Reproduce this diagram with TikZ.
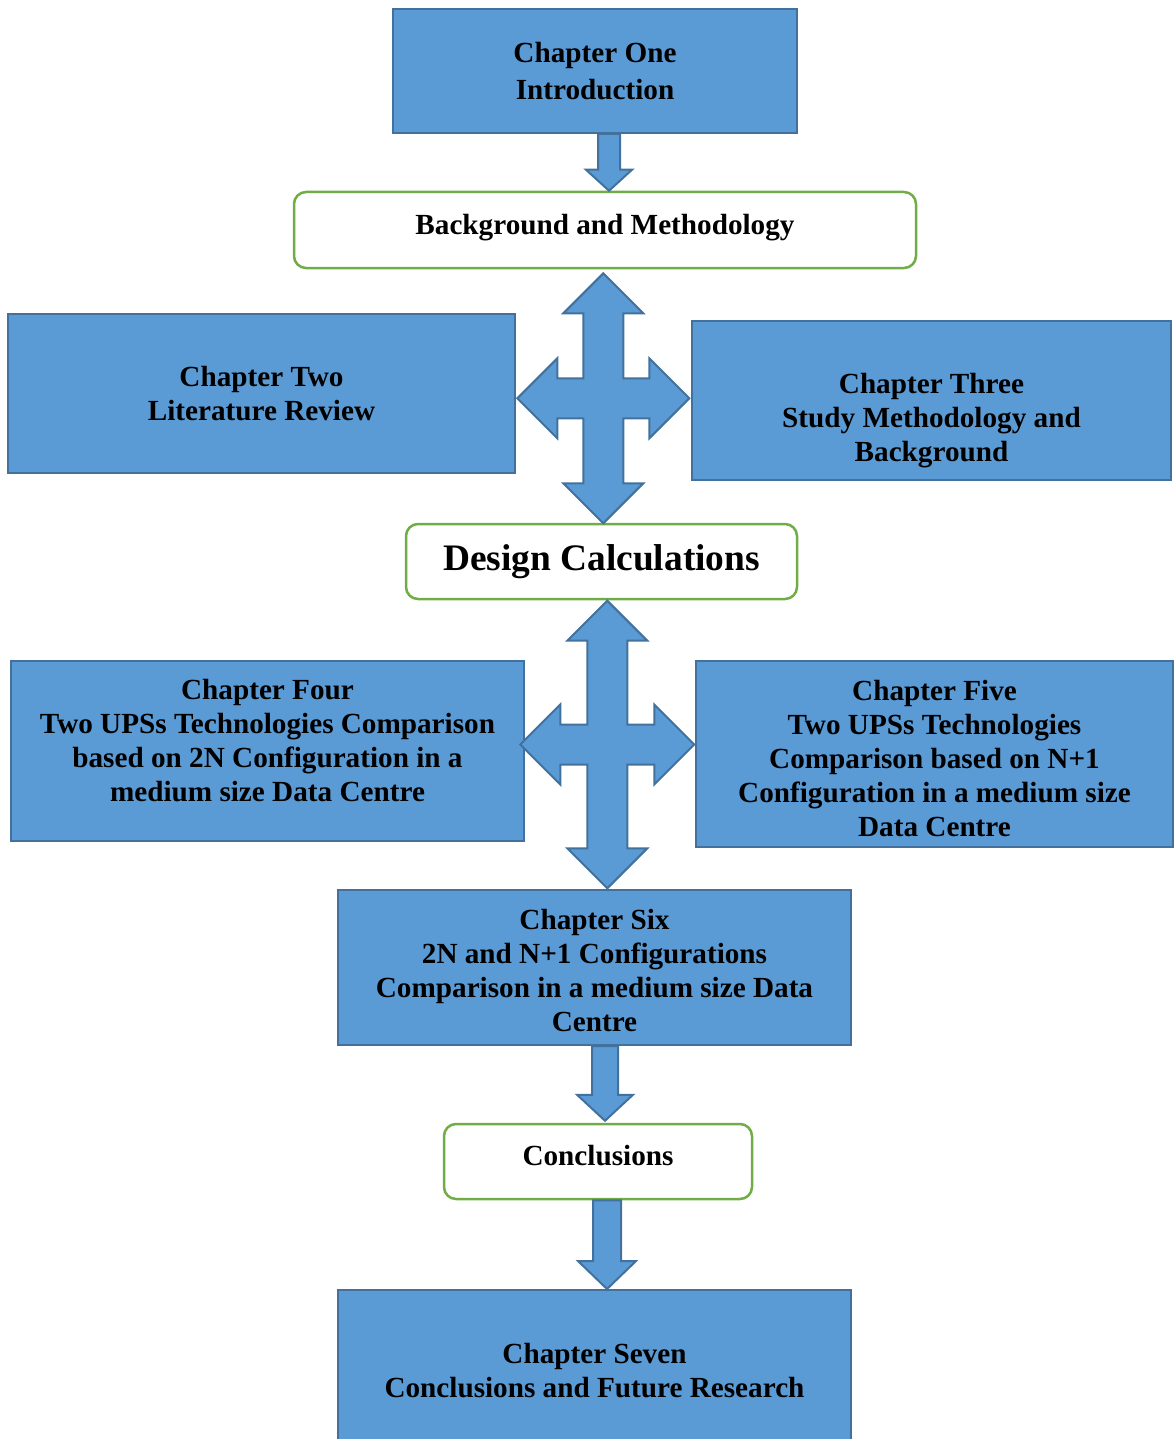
\documentclass[tikz,border=0pt]{standalone}
\usepackage{fontspec}
\setmainfont{Liberation Serif}
\usetikzlibrary{calc}

\definecolor{boxblue}{HTML}{5B9BD5}
\definecolor{boxline}{HTML}{41719C}
\definecolor{stagegreen}{HTML}{70AD47}

\tikzset{
	chapter/.style={draw=boxline, fill=boxblue, line width=1pt, align=center, inner sep=0pt, font=\fontsize{14.6}{17}\selectfont\bfseries},
	chaptext/.style={align=center, inner sep=0pt, font=\fontsize{14.6}{17}\selectfont\bfseries},
	stage/.style={draw=stagegreen, fill=white, line width=1.25pt, rounded corners=6pt, align=center, inner sep=0pt, font=\fontsize{14.6}{17}\selectfont\bfseries},
	blockarrow/.style={draw=boxline, fill=boxblue, line width=1pt, line join=miter},
	pics/crossarrow/.style n args={4}{code={
		\path[blockarrow] (0,-#1) -- (40,-#1+40) -- (20,-#1+40) -- (20,-20) -- (#4-40,-20) -- (#4-40,-40) -- (#4,0) -- (#4-40,40) -- (#4-40,20) -- (20,20) -- (20,#2-40) -- (40,#2-40) -- (0,#2) -- (-40,#2-40) -- (-20,#2-40) -- (-20,20) -- (-#3+40,20) -- (-#3+40,40) -- (-#3,0) -- (-#3+40,-40) -- (-#3+40,-20) -- (-20,-20) -- (-20,-#1+40) -- (-40,-#1+40) -- cycle;
	}}
}

\newcommand{\downblock}[5]{\path[blockarrow] let \p1=(#1), \p2=(#2) in (\x2-#3,\y1) -- (\x2+#3,\y1) -- (\x2+#3,\y2+#5) -- (\x2+#4,\y2+#5) -- (\x2,\y2) -- (\x2-#4,\y2+#5) -- (\x2-#3,\y2+#5) -- cycle;}

\begin{document}
\begin{tikzpicture}[x=0.5pt, y=-0.5pt]
	\useasboundingbox (0,0) rectangle (1174,1439);

	\node[chapter, minimum width=202pt, minimum height=62pt, font=\fontsize{14.6}{18.5}\selectfont\bfseries] (one) at (595,71) {Chapter One\\Introduction};
	\node[stage, minimum width=311pt, minimum height=38pt] (bg) at (605,230) {};
	\node[chaptext] (bgtxt) at ($(bg.center)+(0,-2)$) {Background and Methodology};

	\node[chapter, minimum width=253.5pt, minimum height=79.5pt] (two) at (261.5,393.5) {Chapter Two\\Literature Review};
	\node[chapter, minimum width=239.5pt, minimum height=79.5pt] (three) at (931.5,400.5) {};
	\node[chaptext] (threetxt) at ($(three.center)+(0,20.5)$) {Chapter Three\\Study Methodology and\\Background};

	\node[stage, minimum width=195.5pt, minimum height=37.5pt, font=\fontsize{18.7}{22}\selectfont\bfseries] (design) at (601.5,561.5) {Design Calculations};

	\node[chapter, minimum width=256.5pt, minimum height=90pt] (four) at (267.5,751) {};
	\node[chaptext] (fourtxt) at ($(four.center)+(0,-10)$) {Chapter Four\\Two UPSs Technologies Comparison\\based on 2N Configuration in a\\medium size Data Centre};
	\node[chapter, minimum width=238.5pt, minimum height=93pt] (five) at (934.5,754) {};
	\node[chaptext] (fivetxt) at ($(five.center)+(0,4.5)$) {Chapter Five\\Two UPSs Technologies\\Comparison based on N+1\\Configuration in a medium size\\Data Centre};

	\node[chapter, minimum width=256.5pt, minimum height=77.5pt] (six) at (594.5,967.5) {};
	\node[chaptext] (sixtxt) at ($(six.center)+(0,2.5)$) {Chapter Six\\2N and N+1 Configurations\\Comparison in a medium size Data\\Centre};
	\node[stage, minimum width=154pt, minimum height=37.5pt] (concl) at (598,1161.5) {};
	\node[chaptext] (concltxt) at ($(concl.center)+(0,-6)$) {Conclusions};
	\node[chapter, minimum width=256.5pt, minimum height=81pt] (seven) at (594.5,1371) {Chapter Seven\\Conclusions and Future Research};

	\downblock{one.south}{$(bg.north)+(4,0)$}{5.5pt}{11.5pt}{10.5pt}
	\downblock{six.south}{$(concl.north)+(7,-2)$}{6.5pt}{14pt}{13pt}
	\downblock{concl.south}{$(seven.north)+(12.5,0)$}{7pt}{14.5pt}{14pt}

	\coordinate (hub1) at (603.3,398.3);
	\coordinate (hub2) at (607.3,744.5);
	\pic at (hub1) {crossarrow={125}{125}{86}{86}};
	\pic at (hub2) {crossarrow={143.8}{143.8}{87}{87}};
\end{tikzpicture}
\end{document}
